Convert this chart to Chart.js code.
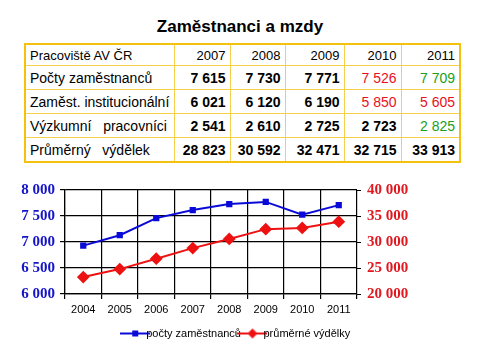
<!DOCTYPE html>
<html>
<head>
<meta charset="utf-8">
<script src="https://cdn.jsdelivr.net/npm/chart.js@4"></script>
<style>
    body { margin: 0; width: 480px; height: 360px; background: #fff; position: relative; overflow: hidden; font-family: Arial, "Liberation Sans", sans-serif; }
    #title { position: absolute; top: 17px; left: 0; width: 480px; text-align: center; font-weight: bold; font-size: 17px; }
    #tbl { position: absolute; left: 24px; top: 43px; width: 435px; table-layout: fixed; border-collapse: collapse; border: 2px solid #f4c20d; }
    #tbl td { border: 1px solid #f6d04a; padding: 0 4px; text-align: right; font-size: 14px; height: 23px; white-space: pre; overflow: hidden; }
    #tbl tr:first-child td { font-size: 13px; height: 20px; }
    #tbl td.lbl { text-align: left; }
    #tbl td.b { font-weight: bold; }
    .r { color: #e8101e; }
    .g { color: #20a020; }
    #box { position: absolute; left: 0; top: 175px; width: 480px; height: 178px; }
</style>
</head>
<body>
<div id="title">Zaměstnanci a mzdy</div>
<table id="tbl">
    <colgroup><col style="width:149px"><col style="width:56px"><col style="width:55px"><col style="width:59px"><col style="width:57px"><col style="width:59px"></colgroup>
    <tbody id="tblBody"></tbody>
</table>
<div id="box"><canvas id="chart"></canvas></div>
<script>
// tabulka
const tableYears = ['2007', '2008', '2009', '2010', '2011'];
const rowLabels = ['Počty zaměstnanců', 'Zaměst. institucionální', 'Výzkumní   pracovníci', 'Průměrný   výdělek'];
const rowPocty = [7615, 7730, 7771, 7526, 7709];
const rowInstit = [6021, 6120, 6190, 5850, 5605];
const rowVyzkum = [2541, 2610, 2725, 2723, 2825];
const rowVydelek = [28823, 30592, 32471, 32715, 33913];
// barvy bunek: '' = cerne tucne, 'r' = cervene, 'g' = zelene
const rowColors = [
    ['', '', '', 'r', 'g'],
    ['', '', '', 'r', 'r'],
    ['', '', '', '', 'g'],
    ['', '', '', '', '']
];

// graf
const years = ['2004', '2005', '2006', '2007', '2008', '2009', '2010', '2011'];
const poctyZam = [6930, 7130, 7460, 7615, 7730, 7771, 7526, 7709];
const prumVydelky = [23250, 24790, 26790, 28823, 30592, 32471, 32715, 33913];

const fmt = v => String(v).replace(/\B(?=(\d{3})+(?!\d))/g, ' ');

const tbody = document.getElementById('tblBody');
let head = '<tr><td class="lbl">Pracoviště AV ČR</td>';
tableYears.forEach(y => head += `<td>${y}</td>`);
tbody.innerHTML = head + '</tr>';
[rowPocty, rowInstit, rowVyzkum, rowVydelek].forEach((row, i) => {
    let html = `<tr><td class="lbl">${rowLabels[i]}</td>`;
    row.forEach((v, j) => {
        const c = rowColors[i][j];
        html += `<td class="${c ? c : 'b'}">${fmt(v)}</td>`;
    });
    tbody.innerHTML += html + '</tr>';
});

// ikonka do legendy: cara + znacka
function legendIcon(color, diamond) {
    const c = document.createElement('canvas');
    c.width = 30; c.height = 12;
    const x = c.getContext('2d');
    x.strokeStyle = color; x.fillStyle = color; x.lineWidth = 2;
    x.beginPath(); x.moveTo(0, 6); x.lineTo(30, 6); x.stroke();
    if (diamond) {
        x.beginPath(); x.moveTo(15, 1); x.lineTo(20, 6); x.lineTo(15, 11); x.lineTo(10, 6); x.closePath(); x.fill();
    } else {
        x.fillRect(12, 3, 6, 6);
    }
    return c;
}
const icons = [legendIcon('#0a0ad8', false), legendIcon('#ee1111', true)];

new Chart(document.getElementById('chart'), {
    type: 'line',
    data: {
        labels: years,
        datasets: [{
            label: 'počty zaměstnanců',
            data: poctyZam,
            yAxisID: 'y',
            borderColor: '#0a0ad8',
            backgroundColor: '#0a0ad8',
            borderWidth: 2,
            pointStyle: 'rect',
            pointRadius: 3,
            tension: 0
        }, {
            label: 'průměrné výdělky',
            data: prumVydelky,
            yAxisID: 'y2',
            borderColor: '#ee1111',
            backgroundColor: '#ee1111',
            borderWidth: 2,
            pointStyle: 'rectRot',
            pointRadius: 5,
            tension: 0
        }]
    },
    options: {
        responsive: true,
        maintainAspectRatio: false,
        animation: false,
        layout: { padding: { top: 8, bottom: 4 } },
        plugins: {
            tooltip: { enabled: false },
            legend: {
                position: 'bottom',
                labels: {
                    usePointStyle: true,
                    color: '#000',
                    padding: 6,
                    font: { family: 'Arial', size: 11 },
                    generateLabels: chart => chart.data.datasets.map((ds, i) => ({
                        text: ds.label,
                        pointStyle: icons[i],
                        fontColor: '#000',
                        datasetIndex: i,
                        lineWidth: 0
                    }))
                }
            }
        },
        scales: {
            x: {
                offset: true,
                grid: { color: '#000', lineWidth: 1.2, offset: true, tickLength: 5 },
                border: { color: '#000', width: 1.2 },
                ticks: { color: '#000', font: { family: 'Arial', size: 11 }, padding: 4, maxRotation: 0 },
                afterFit: s => { s.height = 28; }
            },
            y: {
                position: 'left',
                min: 6000, max: 8000,
                grid: { color: '#000', lineWidth: 1.2, tickLength: 5 },
                border: { color: '#000', width: 1.2 },
                ticks: {
                    stepSize: 500, color: '#1414c8', padding: 5,
                    font: { family: '"Liberation Serif", "Times New Roman", serif', size: 15, weight: 'bold' },
                    callback: v => fmt(v)
                },
                afterFit: s => { s.width = 65; }
            },
            y2: {
                position: 'right',
                min: 20000, max: 40000,
                grid: { drawOnChartArea: false, color: '#000', tickLength: 4 },
                border: { display: false },
                ticks: {
                    stepSize: 5000, color: '#e01820', padding: 6,
                    font: { family: '"Liberation Serif", "Times New Roman", serif', size: 15, weight: 'bold' },
                    callback: v => fmt(v)
                },
                afterFit: s => { s.width = 123; }
            }
        }
    }
});
</script>
</body>
</html>
